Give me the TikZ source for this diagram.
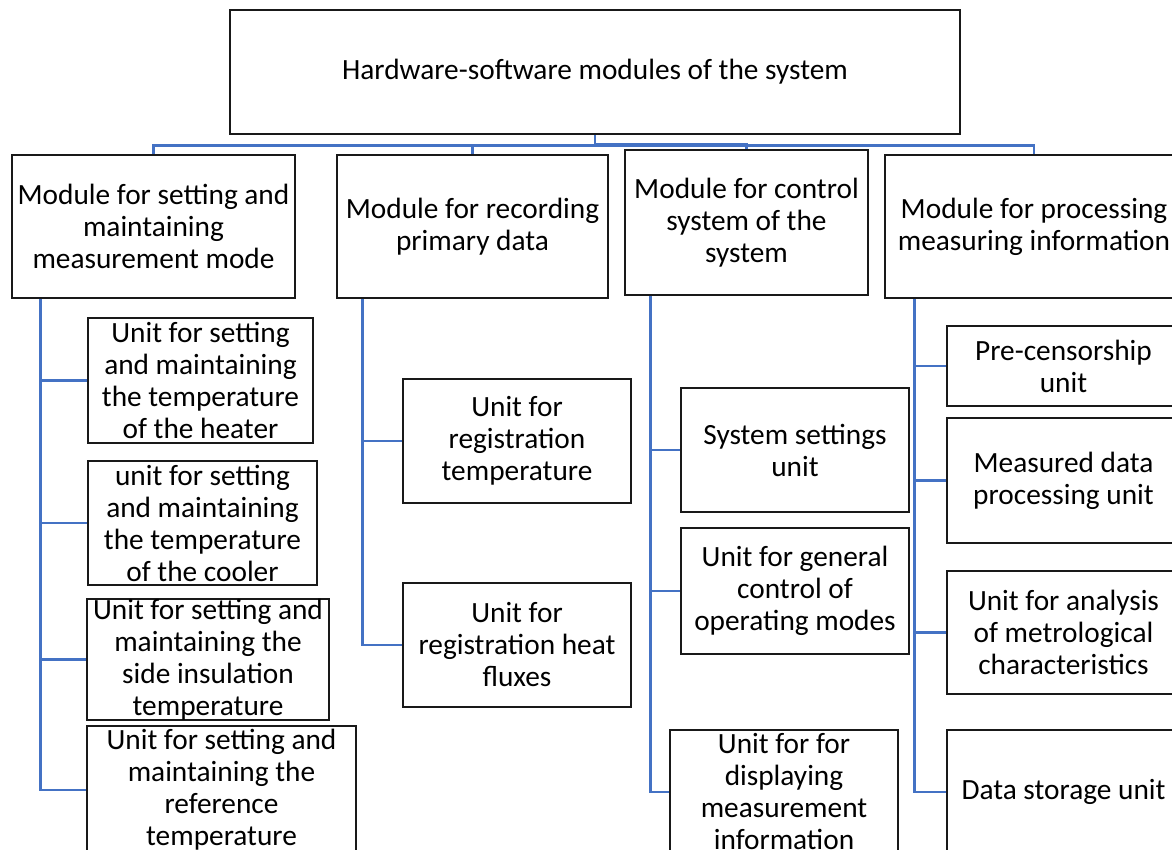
\documentclass[tikz,border=0pt]{standalone}
\usepackage{fontspec}
\setmainfont{Carlito}
\definecolor{connblue}{HTML}{4472C4}
\tikzset{
  box/.style={draw=black!90, line width=1.7pt, fill=white, inner sep=0pt, align=center,
    font={\fontsize{22pt}{24pt}\selectfont}},
  conn/.style={draw=connblue, line width=2.1pt}
}
\newcommand\ubox[6]{\node[box,minimum width={(#4-#2)*0.75pt},minimum height={(#5-#3)*0.75pt}] (#1) at ({(#2+#4)/2},{(#3+#5)/2}) {#6};}
\begin{document}
\begin{tikzpicture}[x=0.75pt,y=-0.75pt]
\useasboundingbox (0,0) rectangle (1172,850);
\clip (0,0) rectangle (1172,850);
% top
\ubox{top}{230}{10}{960}{134}{Hardware-software modules of the system}
% modules
\ubox{m1}{12}{155}{295}{298}{Module for setting and\\maintaining\\measurement mode}
\ubox{m2}{337}{155}{608}{298}{Module for recording\\primary data}
\ubox{m3}{625}{150}{868}{295}{Module for control\\system of the\\system}
\ubox{m4}{885}{155}{1183}{298}{Module for processing\\measuring information}
% units of m1
\ubox{u1}{88}{318}{313}{443}{Unit for setting\\and maintaining\\the temperature\\of the heater}
\ubox{u2}{88}{461}{317}{585}{unit for setting\\and maintaining\\the temperature\\of the cooler}
\ubox{u3}{87}{600}{329}{719}{Unit for setting and\\maintaining the\\side insulation\\temperature}
\ubox{u4}{87}{726}{356}{854}{Unit for setting and\\maintaining the\\reference\\temperature}
% units of m2
\ubox{u5}{403}{379}{631}{503}{Unit for\\registration\\temperature}
\ubox{u6}{403}{583}{631}{707}{Unit for\\registration heat\\fluxes}
% units of m3
\ubox{u7}{681}{388}{909}{512}{System settings\\unit}
\ubox{u8}{681}{528}{909}{654}{Unit for general\\control of\\operating modes}
\ubox{u9}{670}{730}{898}{854}{Unit for for\\displaying\\measurement\\information}
% units of m4
\ubox{u10}{947}{326}{1180}{406}{Pre-censorship\\unit}
\ubox{u11}{947}{418}{1180}{543}{Measured data\\processing unit}
\ubox{u12}{947}{571}{1180}{694}{Unit for analysis\\of metrological\\characteristics}
\ubox{u13}{947}{730}{1180}{854}{Data storage unit}
% top connectors
\draw[conn] (top.south) -- ++(0,12) coordinate (hub);
\draw[conn] (m1.north) -- ++(0,-8) -| (m4.north);
\draw[conn] (m2.north) -- (m2.north |- hub);
\draw[conn] (top.south) -- ++(0,9) -| (m3.north);
% spine m1
\path (m1.south west) ++(30,0) coordinate (s1);
\draw[conn] (s1) |- (u4.west);
\foreach \u in {u1,u2,u3} \draw[conn] (s1 |- \u.west) -- (\u.west);
% spine m2
\path (m2.south west) ++(27,0) coordinate (s2);
\draw[conn] (s2) |- (u6.west);
\draw[conn] (s2 |- u5.west) -- (u5.west);
% spine m3
\path (m3.south west) ++(27,0) coordinate (s3);
\draw[conn] (s3) |- (u9.west);
\foreach \u in {u7,u8} \draw[conn] (s3 |- \u.west) -- (\u.west);
% spine m4
\path (m4.south west) ++(31,0) coordinate (s4);
\draw[conn] (s4) |- (u13.west);
\foreach \u in {u10,u11,u12} \draw[conn] (s4 |- \u.west) -- (\u.west);
\end{tikzpicture}
\end{document}
